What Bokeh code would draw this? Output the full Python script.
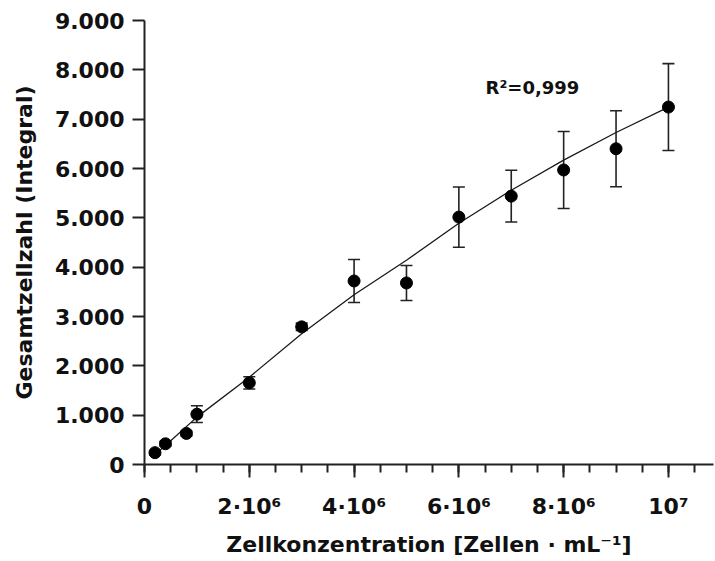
from bokeh.plotting import figure
from bokeh.models import (ColumnDataSource, Whisker, TeeHead, Label, Range1d,
                          FixedTicker)
from bokeh.embed import file_html
from bokeh.resources import INLINE

# Measured total cell counts per cell concentration (mean ± SD)
concentration = [0.2e6, 0.4e6, 0.8e6, 1e6, 2e6, 3e6, 4e6, 5e6, 6e6, 7e6, 8e6, 9e6, 1e7]
total_count = [240, 420, 630, 1020, 1655, 2790, 3720, 3680, 5015, 5440, 5970, 6400, 7245]
count_sd = [40, 50, 50, 170, 125, 75, 435, 355, 610, 525, 780, 770, 880]

# Fitted calibration curve
fit_x = [0.2e6, 0.5e6, 1e6, 2e6, 3e6, 4e6, 5e6, 6e6, 7e6, 8e6, 9e6, 1e7]
fit_y = [200, 480, 960, 1770, 2650, 3440, 4140, 4890, 5560, 6170, 6730, 7244]

# Axis ticks and labels
x_ticks = [0, 2e6, 4e6, 6e6, 8e6, 1e7]
x_tick_labels = ["0", "2·10⁶", "4·10⁶", "6·10⁶", "8·10⁶", "10⁷"]
x_minor_ticks = [i * 0.5e6 for i in range(0, 22)]
y_ticks = [0, 1000, 2000, 3000, 4000, 5000, 6000, 7000, 8000, 9000]
y_tick_labels = ["0", "1.000", "2.000", "3.000", "4.000", "5.000",
                 "6.000", "7.000", "8.000", "9.000"]

r2_text = "R²=0,999"
r2_pos = (6.51e6, 7646)

FONT = "DejaVu Sans"
INK = "#111111"

lower = [v - e for v, e in zip(total_count, count_sd)]
upper = [v + e for v, e in zip(total_count, count_sd)]
src = ColumnDataSource(dict(x=concentration, y=total_count, lo=lower, hi=upper))

p = figure(width=715, height=561, output_backend="svg", toolbar_location=None,
           x_range=Range1d(0, 10.86e6), y_range=Range1d(0, 9000),
           min_border_left=144, min_border_right=2, min_border_top=20,
           min_border_bottom=97)
p.outline_line_color = None
p.xgrid.visible = False
p.ygrid.visible = False
p.background_fill_color = "white"
p.border_fill_color = "white"

# fit curve
p.line(fit_x, fit_y, line_color="#1a1a1a", line_width=1.3)

# error bars
wh = Whisker(source=src, base="x", lower="lo", upper="hi",
             line_color="#222222", line_width=1.6,
             upper_head=TeeHead(size=12, line_color="#222222", line_width=1.6),
             lower_head=TeeHead(size=12, line_color="#222222", line_width=1.6))
p.add_layout(wh)

# points
p.scatter("x", "y", source=src, size=12, marker="circle",
          fill_color="black", line_color="black")

# R² annotation
p.add_layout(Label(x=r2_pos[0], y=r2_pos[1], text=r2_text,
                   text_font=FONT, text_font_style="bold",
                   text_font_size="18px", text_color=INK,
                   text_align="left", text_baseline="middle"))

# axes
xa = p.xaxis[0]
xa.ticker = FixedTicker(ticks=x_ticks, minor_ticks=x_minor_ticks)
xa.major_label_overrides = {t: l for t, l in zip(x_ticks, x_tick_labels)}
xa.axis_label = "Zellkonzentration [Zellen · mL⁻¹]"

ya = p.yaxis[0]
ya.ticker = FixedTicker(ticks=y_ticks, minor_ticks=[])
ya.major_label_overrides = {t: l for t, l in zip(y_ticks, y_tick_labels)}
ya.axis_label = "Gesamtzellzahl (Integral)"

for ax in (xa, ya):
    ax.axis_line_color = "#222222"
    ax.axis_line_width = 2
    ax.major_tick_line_color = "#222222"
    ax.major_tick_line_width = 2
    ax.minor_tick_line_color = "#222222"
    ax.minor_tick_line_width = 2
    ax.major_tick_in = 0
    ax.minor_tick_in = 0
    ax.major_label_text_font = FONT
    ax.major_label_text_font_style = "bold"
    ax.major_label_text_font_size = "22px"
    ax.major_label_text_color = INK
    ax.axis_label_text_font = FONT
    ax.axis_label_text_font_style = "bold"
    ax.axis_label_text_font_size = "22px"
    ax.axis_label_text_color = INK

xa.major_tick_out = 13
xa.minor_tick_out = 8
xa.major_label_standoff = 16
xa.axis_label_standoff = 10

ya.major_tick_out = 12
ya.minor_tick_out = 0
ya.major_label_standoff = 8
ya.axis_label_standoff = 15

open("out.html", "w").write(file_html(p, INLINE))
